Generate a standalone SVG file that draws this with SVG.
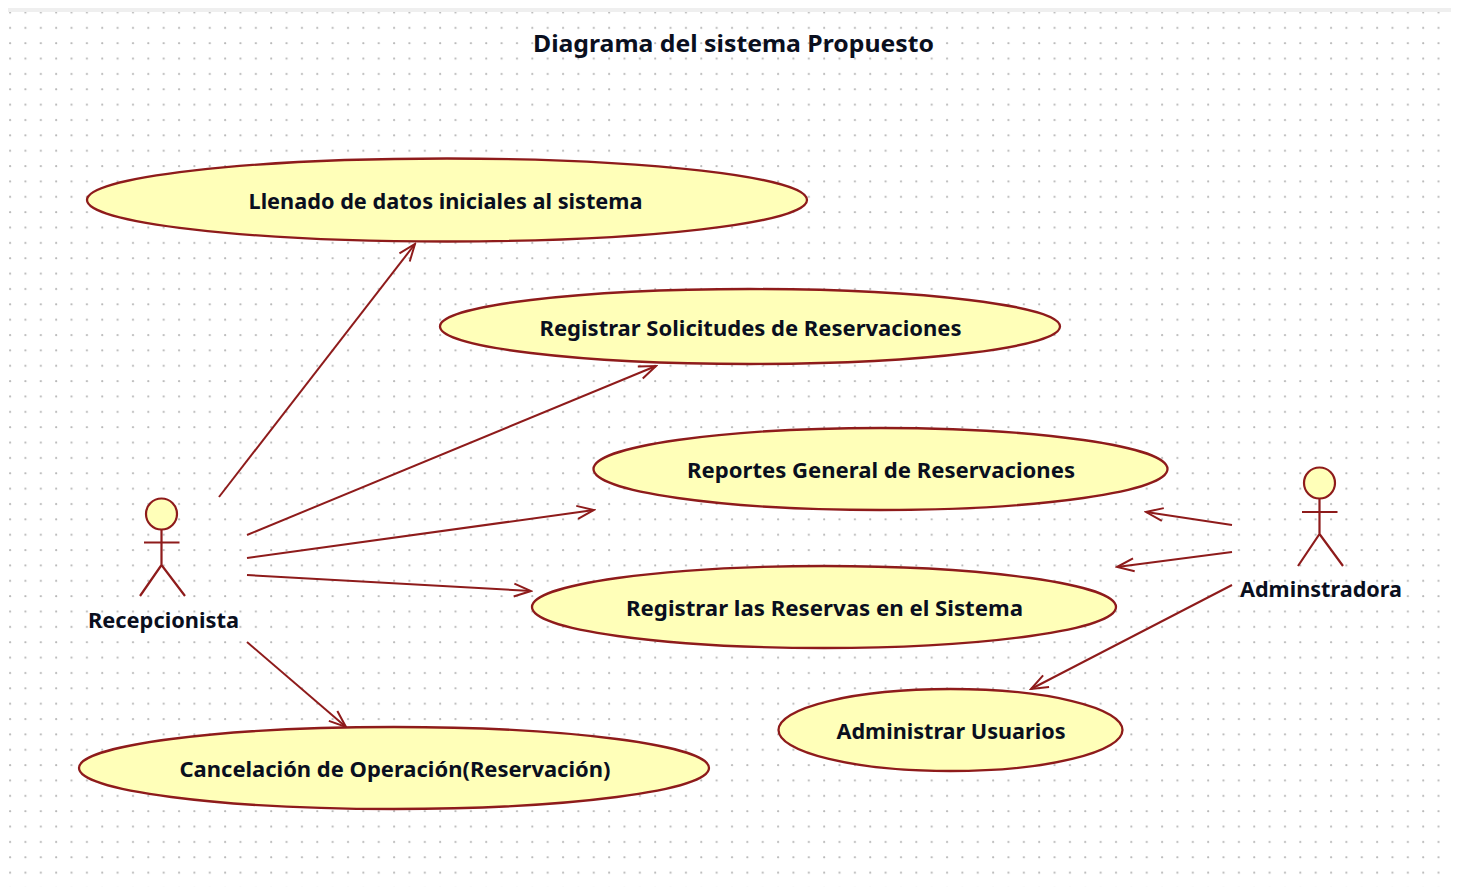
<svg xmlns="http://www.w3.org/2000/svg" width="1457" height="887" viewBox="0 0 1457 887">
<style>
text{font-family:"Noto Sans","DejaVu Sans",sans-serif;font-weight:700;fill:#0a0f1e;text-anchor:middle;font-size:22px}
.uc{fill:#ffffb9;stroke:#8e1b1b;stroke-width:2.3}
.a{fill:#ffffb9;stroke:#8e1b1b;stroke-width:2.2}
.l{fill:none;stroke:#8e1b1b;stroke-width:2.2}
.c{fill:none;stroke:#8e1b1b;stroke-width:2}
</style>
<defs>
<pattern id="dots" x="9" y="11.4" width="15.36" height="15.36" patternUnits="userSpaceOnUse"><circle cx="1.1" cy="1.1" r="1.1" fill="#b8b8b8"/></pattern>
<marker id="arr" markerUnits="userSpaceOnUse" markerWidth="24" markerHeight="20" refX="22" refY="10" orient="auto"><path d="M5 3.500L22 10L5 16.500" fill="none" stroke="#8e1b1b" stroke-width="2"/></marker>
</defs>
<rect width="1457" height="887" fill="#fff"/>
<rect x="8" y="8" width="1443" height="4" fill="#efefef"/>
<rect x="9" y="12" width="1431" height="875" fill="url(#dots)"/>
<text id="title" x="733.5" y="52" style="font-size:24px" textLength="401" lengthAdjust="spacingAndGlyphs">Diagrama del sistema Propuesto</text>
<g id="connectors">
<path class="c" d="M219 497L415 244" marker-end="url(#arr)"/>
<path class="c" d="M247 535L656 366" marker-end="url(#arr)"/>
<path class="c" d="M247 558L594 510" marker-end="url(#arr)"/>
<path class="c" d="M247 575L531 591" marker-end="url(#arr)"/>
<path class="c" d="M247 642L346 727" marker-end="url(#arr)"/>
<path class="c" d="M1232 525L1146 512" marker-end="url(#arr)"/>
<path class="c" d="M1232 552L1117 567" marker-end="url(#arr)"/>
<path class="c" d="M1232 585L1031 689" marker-end="url(#arr)"/>
</g>
<g id="uc1"><ellipse class="uc" cx="447" cy="200" rx="360" ry="41.5"/><text x="445.500" y="209" textLength="394" lengthAdjust="spacingAndGlyphs">Llenado de datos iniciales al sistema</text></g>
<g id="uc2"><ellipse class="uc" cx="750" cy="326.500" rx="310" ry="37.500"/><text x="750.500" y="336" textLength="422" lengthAdjust="spacingAndGlyphs">Registrar Solicitudes de Reservaciones</text></g>
<g id="uc3"><ellipse class="uc" cx="880.500" cy="469" rx="287" ry="41"/><text x="881" y="478" textLength="388" lengthAdjust="spacingAndGlyphs">Reportes General de Reservaciones</text></g>
<g id="uc4"><ellipse class="uc" cx="824" cy="607" rx="292" ry="41"/><text x="824.500" y="616" textLength="397" lengthAdjust="spacingAndGlyphs">Registrar las Reservas en el Sistema</text></g>
<g id="uc5"><ellipse class="uc" cx="950.500" cy="730" rx="172" ry="41"/><text x="951" y="739" textLength="229" lengthAdjust="spacingAndGlyphs">Administrar Usuarios</text></g>
<g id="uc6"><ellipse class="uc" cx="394" cy="768" rx="315" ry="41"/><text x="395" y="777" textLength="431" lengthAdjust="spacingAndGlyphs">Cancelación de Operación(Reservación)</text></g>
<g id="actor1"><circle class="a" cx="161.500" cy="514" r="15.500"/><path class="l" d="M161.500 530V565M144 542.500H179.500M161.500 565L140 596M161.500 565L185 596"/><text x="163.500" y="628" textLength="151" lengthAdjust="spacingAndGlyphs">Recepcionista</text></g>
<g id="actor2"><circle class="a" cx="1319.500" cy="483" r="15.500"/><path class="l" d="M1319.500 499V534M1302 512H1337.500M1319.500 534L1298 566M1319.500 534L1343 566"/><text x="1321" y="597" textLength="162" lengthAdjust="spacingAndGlyphs">Adminstradora</text></g>
</svg>
